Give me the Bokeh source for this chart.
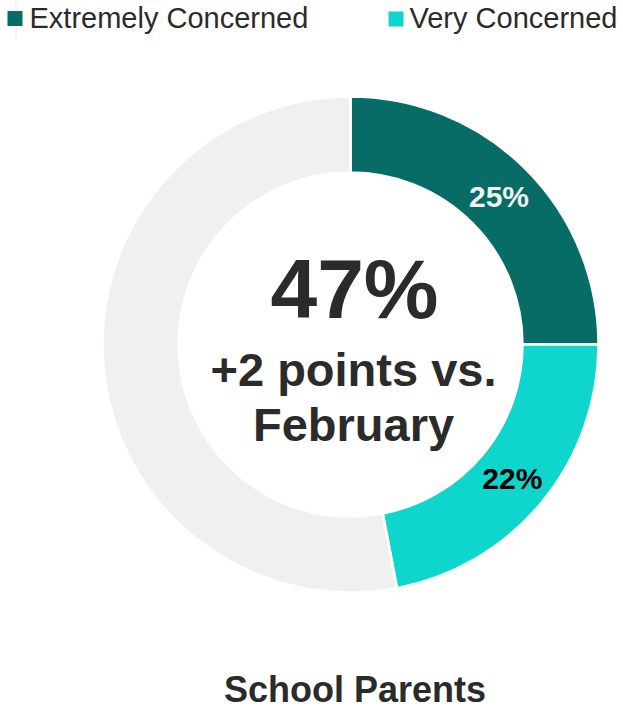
import math
from bokeh.plotting import figure
from bokeh.models import Range1d, ColumnDataSource
from bokeh.core.properties import value
from bokeh.embed import file_html
from bokeh.resources import INLINE

# ---- data ----
categories = ["Extremely Concerned", "Very Concerned", "Other"]
shares = [25, 22, 53]
slice_labels = ["25%", "22%", ""]
legend_items = ["Extremely Concerned", "Very Concerned"]
center_value = "47%"
center_lines = ["+2 points vs.", "February"]
title_text = "School Parents"

# ---- style ----
colors = ["#076b66", "#0fd6cc", "#f0f0f0"]
label_colors = ["#f2f2f2", "#000000", "#000000"]
FONT = "Liberation Sans"
TEXT_COL = "#2b2b2b"

W, H = 623, 710


def X(px):
    return px


def Y(py):
    return H - py


p = figure(width=W, height=H, output_backend="svg", toolbar_location=None,
           x_range=Range1d(0, W), y_range=Range1d(0, H), min_border=0)
p.axis.visible = False
p.grid.visible = False
p.outline_line_color = None
p.background_fill_color = "white"
p.border_fill_color = "white"

cx, cy = X(350), Y(344)
r_out, r_in = 248, 172

total = float(sum(shares))
starts, ends, lx, ly = [], [], [], []
cum = 0.0
for s in shares:
    a0 = math.pi / 2 - 2 * math.pi * cum / total
    a1 = math.pi / 2 - 2 * math.pi * (cum + s) / total
    starts.append(a0)
    ends.append(a1)
    mid = (a0 + a1) / 2
    rm = (r_out + r_in) / 2
    lx.append(cx + rm * math.cos(mid))
    ly.append(cy + rm * math.sin(mid))
    cum += s

src = ColumnDataSource(dict(x=[cx] * len(shares), y=[cy] * len(shares),
                            start=starts, end=ends, color=colors,
                            lx=lx, ly=ly, lab=slice_labels, lc=label_colors))

p.annular_wedge(x="x", y="y", inner_radius=r_in, outer_radius=r_out,
                inner_radius_units="screen", outer_radius_units="screen",
                start_angle="start", end_angle="end", direction="clock",
                fill_color="color", line_color="white", line_width=2.5, source=src)

p.text(x="lx", y="ly", text="lab", text_color="lc", source=src,
       text_font=value(FONT), text_font_style="bold", text_font_size="30px",
       text_align="center", text_baseline="middle")

# center text
p.text(x=[X(354)], y=[Y(288)], text=[center_value], text_color=TEXT_COL,
       text_font=value(FONT), text_font_style="bold", text_font_size="84px",
       text_align="center", text_baseline="middle")
p.text(x=[X(353), X(353)], y=[Y(368.5), Y(424)], text=center_lines, text_color=TEXT_COL,
       text_font=value(FONT), text_font_style="bold", text_font_size="47px",
       text_align="center", text_baseline="middle")

# title at bottom
p.text(x=[X(354.5)], y=[Y(689)], text=[title_text], text_color=TEXT_COL,
       text_font=value(FONT), text_font_style="bold", text_font_size="36px",
       text_align="center", text_baseline="middle")

# legend
p.segment(x0=[X(15.5)], y0=[Y(0)], x1=[X(15.5)], y1=[Y(40)], line_color="#e6e6e6", line_width=1)
leg_sq_x = [X(14.5), X(395.5)]
leg_tx_x = [X(29), X(409)]
p.scatter(x=leg_sq_x, y=[Y(18), Y(18.5)], marker="square", size=15,
          fill_color=colors[:2], line_color=None)
p.text(x=leg_tx_x, y=[Y(17), Y(17)], text=legend_items, text_color=TEXT_COL,
       text_font=value(FONT), text_font_size="29px",
       text_align="left", text_baseline="middle")

open("out.html", "w").write(file_html(p, INLINE))
